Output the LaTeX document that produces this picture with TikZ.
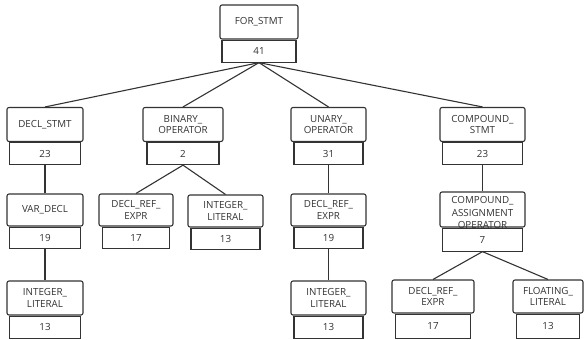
\documentclass[tikz,border=0pt]{standalone}
\usepackage{fontspec}
\setmainfont{Open Sans}
\usepackage{tikz}
\usetikzlibrary{positioning}
\definecolor{ink}{HTML}{333333}
\tikzset{
  kind/.style={draw=ink, fill=white, rounded corners=2pt, align=center, inner sep=1pt, minimum height=34pt, line width=1.1pt, text=ink, font=\fontsize{9.8}{11.8}\selectfont},
  count/.style={draw=ink, fill=white, inner sep=1pt, minimum height=22pt, line width=1.1pt, text=ink, font=\fontsize{9.8}{11.8}\selectfont},
  edge/.style={draw=ink, line width=1.1pt}
}

\begin{document}
\begin{tikzpicture}[x=1pt, y=-1pt]
\useasboundingbox (0,0) rectangle (584,340);
% root
\node[kind, minimum width=78pt] (forstmt) at (259,22) {FOR\_STMT};
\node[count, minimum width=74pt, below=0pt of forstmt] (forstmtn) {41};
% level 2
\node[kind, minimum width=76pt] (declstmt) at (45,124.5) {DECL\_STMT};
\node[count, minimum width=71pt, below=0pt of declstmt] (declstmtn) {23};
\node[kind, minimum width=80pt] (binop) at (183,124.5) {BINARY\_\\OPERATOR};
\node[count, minimum width=72pt, below=0pt of binop] (binopn) {2};
\node[kind, minimum width=75pt] (unop) at (328.5,124.5) {UNARY\_\\OPERATOR};
\node[count, minimum width=69pt, below=0pt of unop] (unopn) {31};
\node[kind, minimum width=85pt] (cmpd) at (482.5,124.5) {COMPOUND\_\\STMT};
\node[count, minimum width=80pt, below=0pt of cmpd] (cmpdn) {23};
% level 3
\node[kind, minimum width=76pt, minimum height=32pt] (vardecl) at (45,210) {VAR\_DECL};
\node[count, minimum width=71pt, minimum height=21pt, below=0pt of vardecl] (vardecln) {19};
\node[kind, minimum width=74pt, minimum height=32pt] (dreleft) at (136,210) {DECL\_REF\_\\EXPR};
\node[count, minimum width=67pt, minimum height=21pt, below=0pt of dreleft] (dreleftn) {17};
\node[kind, minimum width=75pt, minimum height=32pt] (intmid) at (225.5,211) {INTEGER\_\\LITERAL};
\node[count, minimum width=69pt, minimum height=21pt, below=0pt of intmid] (intmidn) {13};
\node[kind, minimum width=75pt, minimum height=32pt] (dreunop) at (328.5,210) {DECL\_REF\_\\EXPR};
\node[count, minimum width=69pt, minimum height=21pt, below=0pt of dreunop] (dreunopn) {19};
\node[kind, minimum width=85pt, minimum height=35pt,
  label={[align=center, text=ink, inner sep=0pt, yshift=-3pt, font=\fontsize{9.8}{12.5}\selectfont]center:COMPOUND\_\\ASSIGNMENT\\OPERATOR}] (assign) at (482.5,209.5) {};
\node[count, minimum width=80pt, minimum height=23pt, below=0pt of assign] (assignn) {7};
% level 4
\node[kind, minimum width=76pt] (intleft) at (45,298) {INTEGER\_\\LITERAL};
\node[count, minimum width=71pt, below=0pt of intleft] (intleftn) {13};
\node[kind, minimum width=75pt] (intunop) at (328.5,298) {INTEGER\_\\LITERAL};
\node[count, minimum width=69pt, below=0pt of intunop] (intunopn) {13};
\node[kind, minimum width=82pt, minimum height=33pt] (dreright) at (433,296.5) {DECL\_REF\_\\EXPR};
\node[count, minimum width=75pt, minimum height=24pt, below=0pt of dreright] (drerightn) {17};
\node[kind, minimum width=70pt, minimum height=33pt] (float) at (548,296.5) {FLOATING\_\\LITERAL};
\node[count, minimum width=63pt, minimum height=24pt, below=0pt of float] (floatn) {13};
% connectors
\draw[edge] (forstmtn.south) -- (declstmt.north);
\draw[edge] (forstmtn.south) -- (binop.north);
\draw[edge] (forstmtn.south) -- (unop.north);
\draw[edge] (forstmtn.south) -- (cmpd.north);
\draw[edge] (declstmtn.south) -- (vardecl.north);
\draw[edge] (vardecln.south) -- (intleft.north);
\draw[edge] (binopn.south) -- (dreleft.north);
\draw[edge] (binopn.south) -- (intmid.north);
\draw[edge] (unopn.south) -- (dreunop.north);
\draw[edge] (dreunopn.south) -- (intunop.north);
\draw[edge] (cmpdn.south) -- (assign.north);
\draw[edge] (assignn.south) -- (dreright.north);
\draw[edge] (assignn.south) -- (float.north);
\end{tikzpicture}
\end{document}
